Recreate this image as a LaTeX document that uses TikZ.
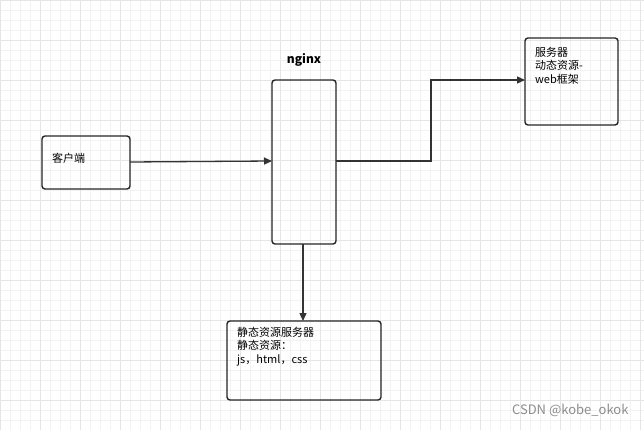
\documentclass[tikz,border=0pt]{standalone}
\usepackage{fontspec}
\setmainfont{Noto Sans CJK SC}
\usetikzlibrary{arrows.meta}
\begin{document}
\begin{tikzpicture}[x=1pt,y=-1pt,
  box/.style={draw=black!85,line width=1.4pt,rounded corners=3pt},
  txt/.style={anchor=north west,align=left,font=\fontsize{11}{13.5}\selectfont,inner sep=0pt},
  arr/.style={draw=black!80,line width=1.3pt,-{Triangle[length=8pt,width=7pt]}}]
\useasboundingbox (0,0) rectangle (644,430);
\fill[white] (0,0) rectangle (644,430);
\foreach \i in {0,10,...,640} \draw[black!5,line width=0.4pt] (\i,0) -- (\i,430);
\foreach \i in {0,10,...,430} \draw[black!5,line width=0.4pt] (0,\i) -- (644,\i);
\foreach \i in {0,40,...,640} \draw[black!10,line width=0.5pt] (\i,0) -- (\i,430);
\foreach \i in {0,40,...,430} \draw[black!10,line width=0.5pt] (0,\i) -- (644,\i);
\draw[box] (42,136) rectangle (130,189);
\node[txt] (c) at (52,153) {客户端};
\coordinate (cR) at (130,162);
\draw[box] (272,80) rectangle (336,244);
\node[font=\bfseries\fontsize{12}{14}\selectfont] (ng) at (304,60) {nginx};
\coordinate (nL) at (272,161);
\coordinate (nR) at (336,161);
\coordinate (nB) at (303,244);
\draw[box] (525,38) rectangle (618,125);
\node[txt] (s) at (535,47) {服务器\\动态资源-\\web框架};
\coordinate (sL) at (525,80);
\draw[box] (227,321) rectangle (381,400);
\node[txt] (st) at (237,327) {静态资源服务器\\静态资源：\\js，html，css};
\coordinate (stT) at (303,321);
\draw[arr] (cR) -- (nL);
\draw[arr] (nR) -- (431,161) -- (431,80) -- (sL);
\draw[arr] (nB) -- (stT);
\node[anchor=east,text=black!45,font=\fontsize{13}{15}\selectfont] (wm) at (632,410) {CSDN @kobe\_okok};
\end{tikzpicture}
\end{document}
